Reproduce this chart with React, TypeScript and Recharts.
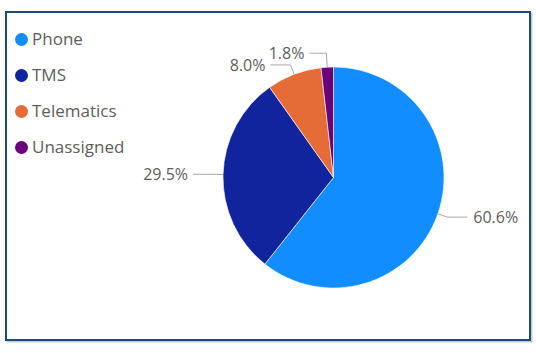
import { PieChart, Pie, Cell } from "recharts"

const categories = ["Phone", "TMS", "Telematics", "Unassigned"]
const shares = [60.6, 29.5, 8.0, 1.8]
const colors = ["#118DFF", "#12239E", "#E66C37", "#6B007B"]

const data = categories.map((name, i) => ({ name, value: shares[i] }))

const RAD = Math.PI / 180
const FONT = "'Open Sans', 'Noto Sans', sans-serif"

function SliceLabel(props: any) {
    const { cx, cy, outerRadius, midAngle, value, index } = props
    const cos = Math.cos(-midAngle * RAD)
    const sin = Math.sin(-midAngle * RAD)
    const radial = index === 3 ? 14 : 10
    const x0 = cx + outerRadius * cos
    const y0 = cy + outerRadius * sin
    const x1 = cx + (outerRadius + radial) * cos
    const y1 = cy + (outerRadius + radial) * sin
    const right = cos >= 0
    const run = index === 3 ? 17 : 20
    const x2 = x1 + (right ? run : -run)
    return (
        <g>
            <polyline
                points={`${x0},${y0} ${x1},${y1} ${x2},${y1}`}
                fill="none"
                stroke="#a8a8a8"
                strokeWidth={1}
            />
            <text
                x={x2 + (right ? 6 : -5)}
                y={y1}
                dy={6}
                textAnchor={right ? "start" : "end"}
                fill="#605e5c"
                fontSize={16}
                fontFamily={FONT}
            >
                {`${value.toFixed(1)}%`}
            </text>
        </g>
    )
}

export default function App() {
    return (
        <div style={{ position: "absolute", left: 0, top: 0, width: 536, height: 353, background: "#fff" }}>
            <div
                style={{
                    position: "absolute",
                    boxSizing: "border-box",
                    left: 5,
                    top: 11,
                    width: 526,
                    height: 330,
                    border: "2px solid #1f4a73",
                    boxShadow: "1.5px 1.5px 0 0 #bccde0"
                }}
            />
            <div style={{ position: "absolute", left: 0, top: 0 }}>
                <PieChart width={536} height={353} margin={{ top: 0, right: 0, bottom: 0, left: 0 }}>
                    <Pie
                        data={data}
                        dataKey="value"
                        nameKey="name"
                        cx={333.5}
                        cy={177.5}
                        outerRadius={110.5}
                        startAngle={90}
                        endAngle={-270}
                        stroke="#ffffff"
                        strokeWidth={0.6}
                        label={SliceLabel}
                        labelLine={false}
                        isAnimationActive={false}
                    >
                        {data.map((d, i) => (
                            <Cell key={d.name} fill={colors[i]} />
                        ))}
                    </Pie>
                </PieChart>
            </div>
            <div style={{ position: "absolute", left: 15, top: 21, fontFamily: FONT }}>
                {categories.map((c, i) => (
                    <div key={c} style={{ display: "flex", alignItems: "center", height: 36 }}>
                        <span
                            style={{
                                width: 13,
                                height: 13,
                                borderRadius: "50%",
                                background: colors[i],
                                display: "inline-block",
                                marginRight: 4
                            }}
                        />
                        <span style={{ fontSize: 17, color: "#605e5c", lineHeight: "20px" }}>{c}</span>
                    </div>
                ))}
            </div>
        </div>
    )
}
